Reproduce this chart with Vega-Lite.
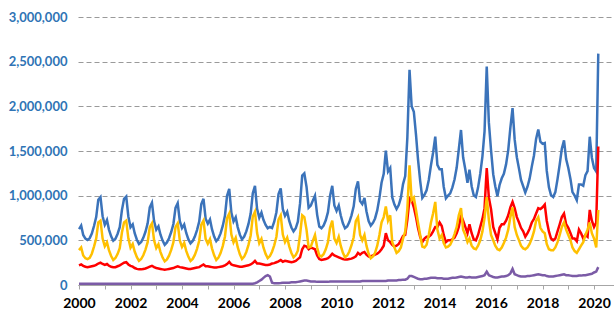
{
"$schema":"https://vega.github.io/schema/vega-lite/v6.json",
"width":536,"height":268,
"autosize":{"type":"none"},
"padding":{"left":78,"top":17,"right":0,"bottom":28},
"background":"white",
"config":{"view":{"stroke":null}},
"data":{"values":[
{"date":"2000-01-01","total":625000,"red":220000,"yellow":390000,"purple":15000},
{"date":"2000-02-01","total":665000,"red":230000,"yellow":420000,"purple":15000},
{"date":"2000-03-01","total":560000,"red":215000,"yellow":330000,"purple":15000},
{"date":"2000-04-01","total":520000,"red":205000,"yellow":300000,"purple":15000},
{"date":"2000-05-01","total":505000,"red":200000,"yellow":290000,"purple":15000},
{"date":"2000-06-01","total":525000,"red":205000,"yellow":305000,"purple":15000},
{"date":"2000-07-01","total":575000,"red":210000,"yellow":350000,"purple":15000},
{"date":"2000-08-01","total":660000,"red":215000,"yellow":430000,"purple":15000},
{"date":"2000-09-01","total":760000,"red":225000,"yellow":520000,"purple":15000},
{"date":"2000-10-01","total":955000,"red":240000,"yellow":700000,"purple":15000},
{"date":"2000-11-01","total":985000,"red":250000,"yellow":720000,"purple":15000},
{"date":"2000-12-01","total":770000,"red":235000,"yellow":520000,"purple":15000},
{"date":"2001-01-01","total":674000,"red":225000,"yellow":434000,"purple":15000},
{"date":"2001-02-01","total":728000,"red":235000,"yellow":478000,"purple":15000},
{"date":"2001-03-01","total":620000,"red":215000,"yellow":390000,"purple":15000},
{"date":"2001-04-01","total":544000,"red":205000,"yellow":324000,"purple":15000},
{"date":"2001-05-01","total":495000,"red":200000,"yellow":280000,"purple":15000},
{"date":"2001-06-01","total":517000,"red":200000,"yellow":302000,"purple":15000},
{"date":"2001-07-01","total":571000,"red":210000,"yellow":346000,"purple":15000},
{"date":"2001-08-01","total":647000,"red":220000,"yellow":412000,"purple":15000},
{"date":"2001-09-01","total":838000,"red":235000,"yellow":588000,"purple":15000},
{"date":"2001-10-01","total":965000,"red":250000,"yellow":700000,"purple":15000},
{"date":"2001-11-01","total":990000,"red":255000,"yellow":720000,"purple":15000},
{"date":"2001-12-01","total":767000,"red":230000,"yellow":522000,"purple":15000},
{"date":"2002-01-01","total":647000,"red":215000,"yellow":417000,"purple":15000},
{"date":"2002-02-01","total":679000,"red":205000,"yellow":459000,"purple":15000},
{"date":"2002-03-01","total":580000,"red":190000,"yellow":375000,"purple":15000},
{"date":"2002-04-01","total":507000,"red":180000,"yellow":312000,"purple":15000},
{"date":"2002-05-01","total":460000,"red":175000,"yellow":270000,"purple":15000},
{"date":"2002-06-01","total":481000,"red":175000,"yellow":291000,"purple":15000},
{"date":"2002-07-01","total":528000,"red":180000,"yellow":333000,"purple":15000},
{"date":"2002-08-01","total":596000,"red":185000,"yellow":396000,"purple":15000},
{"date":"2002-09-01","total":690000,"red":195000,"yellow":480000,"purple":15000},
{"date":"2002-10-01","total":868000,"red":205000,"yellow":648000,"purple":15000},
{"date":"2002-11-01","total":920000,"red":215000,"yellow":690000,"purple":15000},
{"date":"2002-12-01","total":716000,"red":200000,"yellow":501000,"purple":15000},
{"date":"2003-01-01","total":619000,"red":190000,"yellow":414000,"purple":15000},
{"date":"2003-02-01","total":656000,"red":185000,"yellow":456000,"purple":15000},
{"date":"2003-03-01","total":566000,"red":180000,"yellow":371000,"purple":15000},
{"date":"2003-04-01","total":497000,"red":175000,"yellow":307000,"purple":15000},
{"date":"2003-05-01","total":450000,"red":170000,"yellow":265000,"purple":15000},
{"date":"2003-06-01","total":476000,"red":175000,"yellow":286000,"purple":15000},
{"date":"2003-07-01","total":524000,"red":180000,"yellow":329000,"purple":15000},
{"date":"2003-08-01","total":593000,"red":185000,"yellow":393000,"purple":15000},
{"date":"2003-09-01","total":683000,"red":190000,"yellow":478000,"purple":15000},
{"date":"2003-10-01","total":863000,"red":200000,"yellow":648000,"purple":15000},
{"date":"2003-11-01","total":915000,"red":210000,"yellow":690000,"purple":15000},
{"date":"2003-12-01","total":714000,"red":200000,"yellow":499000,"purple":15000},
{"date":"2004-01-01","total":637000,"red":195000,"yellow":427000,"purple":15000},
{"date":"2004-02-01","total":677000,"red":190000,"yellow":472000,"purple":15000},
{"date":"2004-03-01","total":582000,"red":185000,"yellow":382000,"purple":15000},
{"date":"2004-04-01","total":510000,"red":180000,"yellow":315000,"purple":15000},
{"date":"2004-05-01","total":465000,"red":180000,"yellow":270000,"purple":15000},
{"date":"2004-06-01","total":492000,"red":185000,"yellow":292000,"purple":15000},
{"date":"2004-07-01","total":542000,"red":190000,"yellow":337000,"purple":15000},
{"date":"2004-08-01","total":615000,"red":195000,"yellow":405000,"purple":15000},
{"date":"2004-09-01","total":710000,"red":200000,"yellow":495000,"purple":15000},
{"date":"2004-10-01","total":905000,"red":215000,"yellow":675000,"purple":15000},
{"date":"2004-11-01","total":965000,"red":230000,"yellow":720000,"purple":15000},
{"date":"2004-12-01","total":742000,"red":210000,"yellow":517000,"purple":15000},
{"date":"2005-01-01","total":687000,"red":210000,"yellow":462000,"purple":15000},
{"date":"2005-02-01","total":734000,"red":205000,"yellow":514000,"purple":15000},
{"date":"2005-03-01","total":625000,"red":200000,"yellow":410000,"purple":15000},
{"date":"2005-04-01","total":542000,"red":195000,"yellow":332000,"purple":15000},
{"date":"2005-05-01","total":490000,"red":195000,"yellow":280000,"purple":15000},
{"date":"2005-06-01","total":521000,"red":200000,"yellow":306000,"purple":15000},
{"date":"2005-07-01","total":578000,"red":205000,"yellow":358000,"purple":15000},
{"date":"2005-08-01","total":661000,"red":210000,"yellow":436000,"purple":15000},
{"date":"2005-09-01","total":775000,"red":220000,"yellow":540000,"purple":15000},
{"date":"2005-10-01","total":998000,"red":235000,"yellow":748000,"purple":15000},
{"date":"2005-11-01","total":1075000,"red":260000,"yellow":800000,"purple":15000},
{"date":"2005-12-01","total":811000,"red":230000,"yellow":566000,"purple":15000},
{"date":"2006-01-01","total":711000,"red":220000,"yellow":476000,"purple":15000},
{"date":"2006-02-01","total":759000,"red":215000,"yellow":529000,"purple":15000},
{"date":"2006-03-01","total":648000,"red":210000,"yellow":423000,"purple":15000},
{"date":"2006-04-01","total":563000,"red":205000,"yellow":343000,"purple":15000},
{"date":"2006-05-01","total":510000,"red":205000,"yellow":290000,"purple":15000},
{"date":"2006-06-01","total":542000,"red":210000,"yellow":317000,"purple":15000},
{"date":"2006-07-01","total":600000,"red":215000,"yellow":370000,"purple":15000},
{"date":"2006-08-01","total":684000,"red":220000,"yellow":449000,"purple":15000},
{"date":"2006-09-01","total":800000,"red":230000,"yellow":555000,"purple":15000},
{"date":"2006-10-01","total":1027000,"red":245000,"yellow":767000,"purple":15000},
{"date":"2006-11-01","total":1110000,"red":270000,"yellow":820000,"purple":20000},
{"date":"2006-12-01","total":852000,"red":240000,"yellow":582000,"purple":30000},
{"date":"2007-01-01","total":753000,"red":240000,"yellow":468000,"purple":45000},
{"date":"2007-02-01","total":811000,"red":235000,"yellow":516000,"purple":60000},
{"date":"2007-03-01","total":730000,"red":230000,"yellow":420000,"purple":80000},
{"date":"2007-04-01","total":673000,"red":225000,"yellow":348000,"purple":100000},
{"date":"2007-05-01","total":635000,"red":225000,"yellow":300000,"purple":110000},
{"date":"2007-06-01","total":649000,"red":230000,"yellow":324000,"purple":95000},
{"date":"2007-07-01","total":637000,"red":240000,"yellow":372000,"purple":25000},
{"date":"2007-08-01","total":709000,"red":245000,"yellow":444000,"purple":20000},
{"date":"2007-09-01","total":815000,"red":255000,"yellow":540000,"purple":20000},
{"date":"2007-10-01","total":1017000,"red":265000,"yellow":732000,"purple":20000},
{"date":"2007-11-01","total":1082000,"red":280000,"yellow":780000,"purple":22000},
{"date":"2007-12-01","total":849000,"red":260000,"yellow":564000,"purple":25000},
{"date":"2008-01-01","total":775000,"red":270000,"yellow":480000,"purple":25000},
{"date":"2008-02-01","total":820000,"red":265000,"yellow":530000,"purple":25000},
{"date":"2008-03-01","total":717000,"red":260000,"yellow":432000,"purple":25000},
{"date":"2008-04-01","total":644000,"red":255000,"yellow":359000,"purple":30000},
{"date":"2008-05-01","total":600000,"red":260000,"yellow":310000,"purple":30000},
{"date":"2008-06-01","total":635000,"red":270000,"yellow":335000,"purple":30000},
{"date":"2008-07-01","total":709000,"red":290000,"yellow":384000,"purple":35000},
{"date":"2008-08-01","total":910000,"red":310000,"yellow":560000,"purple":40000},
{"date":"2008-09-01","total":1225000,"red":400000,"yellow":780000,"purple":45000},
{"date":"2008-10-01","total":1250000,"red":440000,"yellow":760000,"purple":50000},
{"date":"2008-11-01","total":1100000,"red":430000,"yellow":620000,"purple":50000},
{"date":"2008-12-01","total":865000,"red":400000,"yellow":420000,"purple":45000},
{"date":"2009-01-01","total":890000,"red":420000,"yellow":430000,"purple":40000},
{"date":"2009-02-01","total":950000,"red":410000,"yellow":500000,"purple":40000},
{"date":"2009-03-01","total":1000000,"red":400000,"yellow":560000,"purple":40000},
{"date":"2009-04-01","total":785000,"red":330000,"yellow":420000,"purple":35000},
{"date":"2009-05-01","total":655000,"red":290000,"yellow":330000,"purple":35000},
{"date":"2009-06-01","total":635000,"red":280000,"yellow":320000,"purple":35000},
{"date":"2009-07-01","total":665000,"red":285000,"yellow":345000,"purple":35000},
{"date":"2009-08-01","total":725000,"red":290000,"yellow":400000,"purple":35000},
{"date":"2009-09-01","total":815000,"red":300000,"yellow":480000,"purple":35000},
{"date":"2009-10-01","total":1000000,"red":320000,"yellow":640000,"purple":40000},
{"date":"2009-11-01","total":1110000,"red":350000,"yellow":720000,"purple":40000},
{"date":"2009-12-01","total":890000,"red":330000,"yellow":520000,"purple":40000},
{"date":"2010-01-01","total":830000,"red":320000,"yellow":470000,"purple":40000},
{"date":"2010-02-01","total":890000,"red":310000,"yellow":540000,"purple":40000},
{"date":"2010-03-01","total":780000,"red":300000,"yellow":440000,"purple":40000},
{"date":"2010-04-01","total":690000,"red":290000,"yellow":360000,"purple":40000},
{"date":"2010-05-01","total":635000,"red":285000,"yellow":310000,"purple":40000},
{"date":"2010-06-01","total":655000,"red":285000,"yellow":330000,"purple":40000},
{"date":"2010-07-01","total":705000,"red":290000,"yellow":375000,"purple":40000},
{"date":"2010-08-01","total":780000,"red":295000,"yellow":445000,"purple":40000},
{"date":"2010-09-01","total":880000,"red":305000,"yellow":535000,"purple":40000},
{"date":"2010-10-01","total":1075000,"red":320000,"yellow":715000,"purple":40000},
{"date":"2010-11-01","total":1160000,"red":360000,"yellow":760000,"purple":40000},
{"date":"2010-12-01","total":940000,"red":340000,"yellow":560000,"purple":40000},
{"date":"2011-01-01","total":905000,"red":360000,"yellow":500000,"purple":45000},
{"date":"2011-02-01","total":975000,"red":370000,"yellow":560000,"purple":45000},
{"date":"2011-03-01","total":825000,"red":340000,"yellow":440000,"purple":45000},
{"date":"2011-04-01","total":715000,"red":320000,"yellow":350000,"purple":45000},
{"date":"2011-05-01","total":665000,"red":320000,"yellow":300000,"purple":45000},
{"date":"2011-06-01","total":695000,"red":330000,"yellow":320000,"purple":45000},
{"date":"2011-07-01","total":745000,"red":340000,"yellow":360000,"purple":45000},
{"date":"2011-08-01","total":835000,"red":350000,"yellow":440000,"purple":45000},
{"date":"2011-09-01","total":975000,"red":370000,"yellow":560000,"purple":45000},
{"date":"2011-10-01","total":1145000,"red":400000,"yellow":700000,"purple":45000},
{"date":"2011-11-01","total":1245000,"red":440000,"yellow":760000,"purple":45000},
{"date":"2011-12-01","total":1505000,"red":580000,"yellow":880000,"purple":45000},
{"date":"2012-01-01","total":1270000,"red":500000,"yellow":720000,"purple":50000},
{"date":"2012-02-01","total":1310000,"red":480000,"yellow":780000,"purple":50000},
{"date":"2012-03-01","total":980000,"red":450000,"yellow":480000,"purple":50000},
{"date":"2012-04-01","total":900000,"red":430000,"yellow":420000,"purple":50000},
{"date":"2012-05-01","total":850000,"red":440000,"yellow":360000,"purple":50000},
{"date":"2012-06-01","total":895000,"red":460000,"yellow":380000,"purple":55000},
{"date":"2012-07-01","total":975000,"red":500000,"yellow":420000,"purple":55000},
{"date":"2012-08-01","total":1130000,"red":550000,"yellow":520000,"purple":60000},
{"date":"2012-09-01","total":1220000,"red":560000,"yellow":600000,"purple":60000},
{"date":"2012-10-01","total":1650000,"red":730000,"yellow":850000,"purple":70000},
{"date":"2012-11-01","total":2410000,"red":970000,"yellow":1340000,"purple":100000},
{"date":"2012-12-01","total":2000000,"red":950000,"yellow":950000,"purple":100000},
{"date":"2013-01-01","total":1940000,"red":870000,"yellow":980000,"purple":90000},
{"date":"2013-02-01","total":1680000,"red":760000,"yellow":840000,"purple":80000},
{"date":"2013-03-01","total":1410000,"red":640000,"yellow":700000,"purple":70000},
{"date":"2013-04-01","total":1165000,"red":540000,"yellow":560000,"purple":65000},
{"date":"2013-05-01","total":975000,"red":480000,"yellow":430000,"purple":65000},
{"date":"2013-06-01","total":1010000,"red":520000,"yellow":420000,"purple":70000},
{"date":"2013-07-01","total":1060000,"red":540000,"yellow":450000,"purple":70000},
{"date":"2013-08-01","total":1175000,"red":540000,"yellow":560000,"purple":75000},
{"date":"2013-09-01","total":1340000,"red":560000,"yellow":700000,"purple":80000},
{"date":"2013-10-01","total":1480000,"red":600000,"yellow":800000,"purple":80000},
{"date":"2013-11-01","total":1660000,"red":650000,"yellow":930000,"purple":80000},
{"date":"2013-12-01","total":1345000,"red":650000,"yellow":620000,"purple":75000},
{"date":"2014-01-01","total":1295000,"red":700000,"yellow":520000,"purple":75000},
{"date":"2014-02-01","total":1295000,"red":660000,"yellow":560000,"purple":75000},
{"date":"2014-03-01","total":1100000,"red":560000,"yellow":470000,"purple":70000},
{"date":"2014-04-01","total":970000,"red":480000,"yellow":420000,"purple":70000},
{"date":"2014-05-01","total":1000000,"red":500000,"yellow":430000,"purple":70000},
{"date":"2014-06-01","total":1025000,"red":500000,"yellow":450000,"purple":75000},
{"date":"2014-07-01","total":1090000,"red":510000,"yellow":500000,"purple":80000},
{"date":"2014-08-01","total":1180000,"red":530000,"yellow":570000,"purple":80000},
{"date":"2014-09-01","total":1315000,"red":580000,"yellow":650000,"purple":85000},
{"date":"2014-10-01","total":1520000,"red":650000,"yellow":780000,"purple":90000},
{"date":"2014-11-01","total":1735000,"red":780000,"yellow":860000,"purple":95000},
{"date":"2014-12-01","total":1430000,"red":720000,"yellow":620000,"purple":90000},
{"date":"2015-01-01","total":1295000,"red":650000,"yellow":560000,"purple":85000},
{"date":"2015-02-01","total":1145000,"red":580000,"yellow":480000,"purple":85000},
{"date":"2015-03-01","total":1290000,"red":680000,"yellow":520000,"purple":90000},
{"date":"2015-04-01","total":1105000,"red":580000,"yellow":440000,"purple":85000},
{"date":"2015-05-01","total":1005000,"red":510000,"yellow":410000,"purple":85000},
{"date":"2015-06-01","total":985000,"red":500000,"yellow":400000,"purple":85000},
{"date":"2015-07-01","total":1090000,"red":560000,"yellow":440000,"purple":90000},
{"date":"2015-08-01","total":1245000,"red":650000,"yellow":500000,"purple":95000},
{"date":"2015-09-01","total":1440000,"red":740000,"yellow":600000,"purple":100000},
{"date":"2015-10-01","total":1720000,"red":860000,"yellow":750000,"purple":110000},
{"date":"2015-11-01","total":2445000,"red":1310000,"yellow":985000,"purple":150000},
{"date":"2015-12-01","total":1820000,"red":980000,"yellow":730000,"purple":110000},
{"date":"2016-01-01","total":1510000,"red":850000,"yellow":560000,"purple":100000},
{"date":"2016-02-01","total":1240000,"red":650000,"yellow":500000,"purple":90000},
{"date":"2016-03-01","total":1105000,"red":580000,"yellow":440000,"purple":85000},
{"date":"2016-04-01","total":995000,"red":510000,"yellow":400000,"purple":85000},
{"date":"2016-05-01","total":1120000,"red":640000,"yellow":390000,"purple":90000},
{"date":"2016-06-01","total":1195000,"red":680000,"yellow":420000,"purple":95000},
{"date":"2016-07-01","total":1245000,"red":680000,"yellow":470000,"purple":95000},
{"date":"2016-08-01","total":1350000,"red":720000,"yellow":530000,"purple":100000},
{"date":"2016-09-01","total":1510000,"red":780000,"yellow":620000,"purple":110000},
{"date":"2016-10-01","total":1760000,"red":870000,"yellow":760000,"purple":130000},
{"date":"2016-11-01","total":1980000,"red":930000,"yellow":870000,"purple":180000},
{"date":"2016-12-01","total":1630000,"red":860000,"yellow":650000,"purple":120000},
{"date":"2017-01-01","total":1430000,"red":760000,"yellow":560000,"purple":110000},
{"date":"2017-02-01","total":1300000,"red":700000,"yellow":500000,"purple":100000},
{"date":"2017-03-01","total":1175000,"red":640000,"yellow":440000,"purple":95000},
{"date":"2017-04-01","total":1105000,"red":600000,"yellow":410000,"purple":95000},
{"date":"2017-05-01","total":1035000,"red":540000,"yellow":400000,"purple":95000},
{"date":"2017-06-01","total":1100000,"red":580000,"yellow":420000,"purple":100000},
{"date":"2017-07-01","total":1190000,"red":630000,"yellow":460000,"purple":100000},
{"date":"2017-08-01","total":1325000,"red":700000,"yellow":520000,"purple":105000},
{"date":"2017-09-01","total":1450000,"red":740000,"yellow":600000,"purple":110000},
{"date":"2017-10-01","total":1635000,"red":800000,"yellow":720000,"purple":115000},
{"date":"2017-11-01","total":1740000,"red":860000,"yellow":760000,"purple":120000},
{"date":"2017-12-01","total":1605000,"red":850000,"yellow":640000,"purple":115000},
{"date":"2018-01-01","total":1580000,"red":870000,"yellow":600000,"purple":110000},
{"date":"2018-02-01","total":1590000,"red":900000,"yellow":580000,"purple":110000},
{"date":"2018-03-01","total":1280000,"red":720000,"yellow":460000,"purple":100000},
{"date":"2018-04-01","total":1095000,"red":600000,"yellow":400000,"purple":95000},
{"date":"2018-05-01","total":1005000,"red":520000,"yellow":390000,"purple":95000},
{"date":"2018-06-01","total":985000,"red":500000,"yellow":390000,"purple":95000},
{"date":"2018-07-01","total":1040000,"red":520000,"yellow":420000,"purple":100000},
{"date":"2018-08-01","total":1185000,"red":600000,"yellow":480000,"purple":105000},
{"date":"2018-09-01","total":1350000,"red":680000,"yellow":560000,"purple":110000},
{"date":"2018-10-01","total":1525000,"red":760000,"yellow":650000,"purple":115000},
{"date":"2018-11-01","total":1620000,"red":800000,"yellow":700000,"purple":120000},
{"date":"2018-12-01","total":1410000,"red":680000,"yellow":620000,"purple":110000},
{"date":"2019-01-01","total":1310000,"red":640000,"yellow":560000,"purple":110000},
{"date":"2019-02-01","total":1185000,"red":580000,"yellow":500000,"purple":105000},
{"date":"2019-03-01","total":1040000,"red":520000,"yellow":420000,"purple":100000},
{"date":"2019-04-01","total":1000000,"red":520000,"yellow":380000,"purple":100000},
{"date":"2019-05-01","total":950000,"red":490000,"yellow":360000,"purple":100000},
{"date":"2019-06-01","total":1125000,"red":620000,"yellow":400000,"purple":105000},
{"date":"2019-07-01","total":1125000,"red":580000,"yellow":440000,"purple":105000},
{"date":"2019-08-01","total":1110000,"red":520000,"yellow":480000,"purple":110000},
{"date":"2019-09-01","total":1230000,"red":560000,"yellow":560000,"purple":110000},
{"date":"2019-10-01","total":1275000,"red":540000,"yellow":620000,"purple":115000},
{"date":"2019-11-01","total":1660000,"red":840000,"yellow":700000,"purple":120000},
{"date":"2019-12-01","total":1425000,"red":720000,"yellow":580000,"purple":125000},
{"date":"2020-01-01","total":1310000,"red":650000,"yellow":520000,"purple":140000},
{"date":"2020-02-01","total":1270000,"red":700000,"yellow":420000,"purple":150000},
{"date":"2020-03-01","total":2590000,"red":1550000,"yellow":840000,"purple":200000}
]},
"transform":[{"fold":["total","red","yellow","purple"],"as":["series","value"]}],
"mark":{"type":"line","strokeWidth":2.5,"clip":true},
"encoding":{
"x":{"field":"date","type":"temporal",
"scale":{"type":"utc","domain":[{"year":1999,"month":12,"date":18,"utc":true},{"year":2020,"month":10,"date":10,"utc":true}]},
"axis":{"title":null,"grid":false,"tickCount":{"interval":"year","step":1},
"labelExpr":"utcyear(datum.value) % 2 === 0 ? utcFormat(datum.value,'%Y') : ''",
"labelOverlap":false,"labelFlush":false,
"domainColor":"#A6A6A6","tickColor":"#A6A6A6","tickSize":4,"labelPadding":7,
"labelFont":"Lato","labelFontSize":14,"labelFontWeight":"bold","labelColor":"#000000"}},
"y":{"field":"value","type":"quantitative","scale":{"domain":[0,3000000]},
"axis":{"title":null,"values":[0,500000,1000000,1500000,2000000,2500000,3000000],"format":",d",
"grid":true,"gridDash":[5,3],"gridColor":"#9A9A9A","domain":false,"ticks":false,"tickSize":0,"labelPadding":11,
"labelFont":"Lato","labelFontSize":13,"labelFontWeight":"bold","labelColor":"#2F74B5"}},
"color":{"field":"series","type":"nominal","scale":{"domain":["total","red","yellow","purple"],"range":["#3B73BA","#FF0000","#FFC000","#7B5BA6"]},"legend":null}
}
}
